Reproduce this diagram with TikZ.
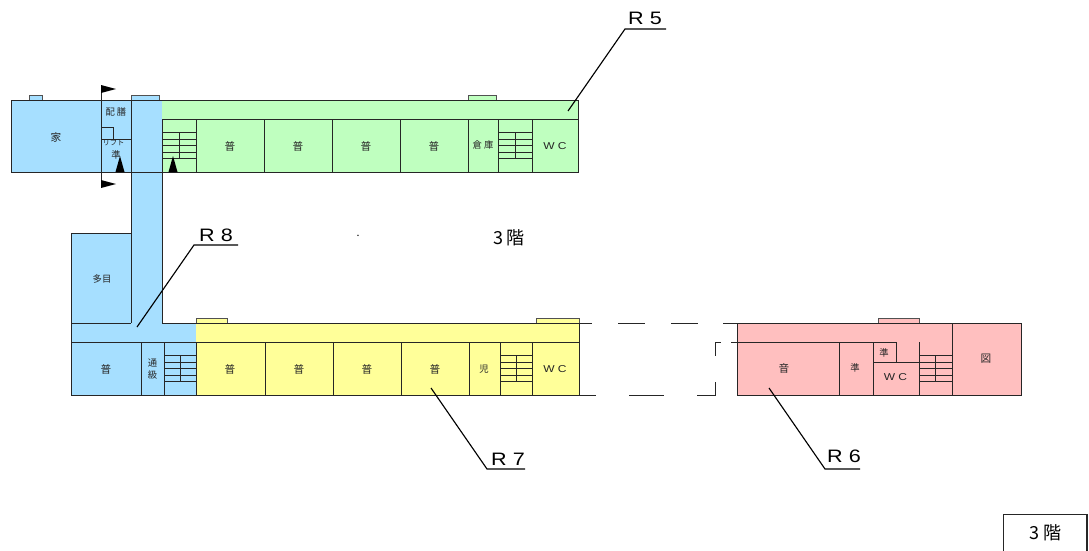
\documentclass[tikz,border=0pt]{standalone}
\usepackage{fontspec}
\setmainfont{Noto Sans CJK JP}
\newfontfamily\latinwide[FakeStretch=1.2]{Liberation Sans}
\definecolor{cblue}{HTML}{A6DFFF}
\definecolor{cgreen}{HTML}{BFFFBF}
\definecolor{cyellow}{HTML}{FFFF99}
\definecolor{cpink}{HTML}{FFBFBF}
\definecolor{ink}{HTML}{262626}
\tikzset{
  wall/.style={draw=ink,line width=0.62pt},
  thin wall/.style={draw=ink!80,line width=0.6pt},
  leader/.style={draw=black,line width=0.85pt},
  room/.style={inner sep=0pt,font=\fontsize{8pt}{9pt}\selectfont,text=ink},
  small/.style={inner sep=0pt,font=\fontsize{7pt}{8.5pt}\selectfont,text=ink},
  tiny label/.style={inner sep=0pt,font=\fontsize{5.5pt}{6pt}\selectfont,text=ink},
  wc/.style={inner sep=0pt,font=\latinwide\fontsize{7.5pt}{8pt}\selectfont,text=ink},
  big/.style={inner sep=0pt,font=\latinwide\fontsize{13.5pt}{15pt}\selectfont,text=black},
  floor/.style={inner sep=0pt,font=\fontsize{13.5pt}{15pt}\selectfont,text=black},
  flag/.style={fill=black,draw=none},
}
\newcommand{\stairs}[3]{% x1, x2, top y
  \draw[wall] (#1,#3) -- (#2,#3) (#1,#3+6.5) -- (#2,#3+6.5) (#1,#3+13) -- (#2,#3+13)
    (#1,#3+19.5) -- (#2,#3+19.5) (#1,#3+26) -- (#2,#3+26)
    ({(#1+#2)/2},#3) -- ({(#1+#2)/2},#3+26);
}
\begin{document}
\begin{tikzpicture}[x=0.75pt,y=-0.75pt]
\useasboundingbox (0,0) rectangle (1089,550);
% --- fills
\fill[cblue] (11,100) rectangle (162,172);
\fill[cblue] (131,172) rectangle (162,323);
\fill[cgreen] (162,100) rectangle (578,172);
\fill[cblue] (71,233) rectangle (131,323);
\fill[cblue] (71,323) rectangle (196,395);
\fill[cyellow] (196,323) rectangle (579,395);
\fill[cpink] (737,323) rectangle (1021,395);
% --- bumps
\filldraw[fill=cblue,thin wall] (29,100) rectangle (42,95.5);
\filldraw[fill=cblue,thin wall] (131,100) rectangle (159,95.5);
\filldraw[fill=cgreen,thin wall] (468,100) rectangle (496,95.5);
\filldraw[fill=cyellow,thin wall] (196,323) rectangle (227,318.5);
\filldraw[fill=cyellow,thin wall] (536,323) rectangle (579,318.5);
\filldraw[fill=cpink,thin wall] (878,323) rectangle (919,318);
% --- upper wing
\draw[wall] (11,100) rectangle (578,172);
\draw[wall] (162,119) -- (578,119);
\draw[wall] (131,100) -- (131,323);
\draw[wall] (162,119) -- (162,323);
\foreach \x in {196,264,332,400,468,498,532} \draw[wall] (\x,119) -- (\x,172);
\draw[wall] (101,85) -- (101,187);
\draw[wall] (101,139) -- (131,139);
\draw[wall] (101,127) -- (113,127) -- (113,139);
\stairs{162}{196}{132.5}
\stairs{498}{532}{132.5}
\fill[flag] (101,85) -- (116,89) -- (101,93) -- cycle;
\fill[flag] (101,180) -- (116,184) -- (101,188) -- cycle;
\fill[flag] (120,156) -- (124.5,172) -- (115.5,172) -- cycle;
\fill[flag] (173,156) -- (177.5,172) -- (168.5,172) -- cycle;
% --- lower wing
\draw[wall] (71,323) -- (71,233) -- (131,233);
\draw[wall] (71,323) -- (131,323) (162,323) -- (579,323);
\draw[wall] (71,323) -- (71,395) -- (579,395) -- (579,323);
\draw[wall] (71,342) -- (579,342);
\foreach \x in {141,164,196,265,333,401,469,500,532} \draw[wall] (\x,342) -- (\x,395);
\stairs{164}{196}{355.5}
\stairs{500}{532}{355.5}
% --- gap dashes
\draw[wall] (579,323) -- (592,323) (618,323) -- (645,323) (671,323) -- (698,323) (723,323) -- (737,323);
\draw[wall] (579,395) -- (596,395) (629,395) -- (664,395) (697,395) -- (715,395) -- (715,381.5);
\draw[wall] (715,355.5) -- (715,342) -- (721,342);
% --- music wing
\draw[wall] (737,323) rectangle (1021,395);
\draw[wall] (952,323) -- (952,395);
\draw[wall] (731,342) -- (896,342) -- (896,362);
\draw[wall] (839,342) -- (839,395) (873,342) -- (873,395);
\draw[wall] (873,362) -- (919,362);
\draw[wall] (919,342) -- (919,395);
\stairs{919}{952}{355.5}
% --- leaders
\draw[leader] (568,111) -- (625,29) -- (666,29);
\draw[leader] (137,327) -- (194,245) -- (238,245);
\draw[leader] (431,388) -- (487,469) -- (525,469);
\draw[leader] (769,388) -- (825,469) -- (860,469);
% --- labels upper
\node[room] (ie) at (56,137) {家};
\node[small] (haizen) at (116,112) {配\hspace{1.5pt}膳};
\node[tiny label] (lift) at (113.5,143) {リフト};
\node[small] (jun1) at (116,155) {準};
\node[room] (f1) at (230,146) {普};
\node[room] (f2) at (298,146) {普};
\node[room] (f3) at (366,146) {普};
\node[room] (f4) at (434,146) {普};
\node[small] (souko) at (483,145) {倉\hspace{1.5pt}庫};
\node[wc] (wc1) at (555,146) {W C};
% --- labels lower
\node[small] (tamoku) at (102,279) {多目};
\node[room] (f5) at (106,369) {普};
\node[small,align=center] (tsukyu) at (152.5,369) {通\\級};
\node[room] (f6) at (230,369) {普};
\node[room] (f7) at (299,369) {普};
\node[room] (f8) at (367,369) {普};
\node[room] (f9) at (435,369) {普};
\node[small] (ji) at (484,369) {児};
\node[wc] (wc2) at (555,369) {W C};
% --- labels music wing
\node[room] (on) at (784,368) {音};
\node[small] (jun2) at (855,368) {準};
\node[small] (jun3) at (884,352.5) {準};
\node[wc] (wc3) at (895.5,377) {W C};
\node[room] (zu) at (986,359) {図};
% --- titles
\node[big] (r5) at (645,18) {R 5};
\node[big] (r8) at (216,235) {R 8};
\node[big] (r7) at (508,459) {R 7};
\node[big] (r6) at (844,456) {R 6};
\node[floor] (kai) at (509,238) {3\hspace{3pt}階};
\node[inner sep=0pt,font=\fontsize{8pt}{9pt}\selectfont] (dot) at (358,236) {.};
\draw[line width=0.8pt,draw=ink] (1003.5,560) -- (1003.5,514.5) -- (1087,514.5) -- (1087,560);
\node[floor] (kai2) at (1045,533) {3\hspace{3pt}階};
\end{tikzpicture}
\end{document}
